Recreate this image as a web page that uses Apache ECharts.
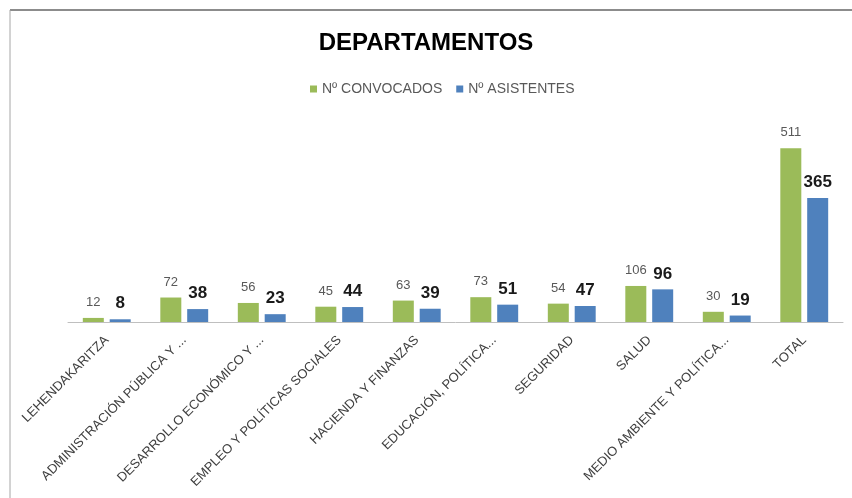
<!DOCTYPE html>
<html>
<head>
<meta charset="utf-8">
<script src="https://cdn.jsdelivr.net/npm/echarts@6/dist/echarts.min.js"></script>
<style>
  html, body { margin: 0; padding: 0; background: #fff; }
  #main { width: 852px; height: 498px; }
</style>
</head>
<body>
<div id="main"></div>
<script>
    // datos por departamento
    var categorias = ['LEHENDAKARITZA', 'ADMINISTRACIÓN PÚBLICA Y ...', 'DESARROLLO ECONÓMICO Y ...',
        'EMPLEO Y POLÍTICAS SOCIALES', 'HACIENDA Y FINANZAS', 'EDUCACIÓN, POLÍTICA...',
        'SEGURIDAD', 'SALUD', 'MEDIO AMBIENTE Y POLÍTICA...', 'TOTAL'];
    var convocados = [12, 72, 56, 45, 63, 73, 54, 106, 30, 511];
    var asistentes = [8, 38, 23, 44, 39, 51, 47, 96, 19, 365];

    var myChart = echarts.init(document.getElementById('main'));
    var fuente = '"Liberation Sans", Arial, sans-serif';

    var option = {
        backgroundColor: '#fff',
        animation: false,
        title: {
            text: 'DEPARTAMENTOS',
            left: 'center',
            top: 26,
            textStyle: { fontFamily: fuente, fontSize: 24, fontWeight: 'bold', color: '#000' }
        },
        legend: {
            top: 77,
            left: 305,
            itemWidth: 7,
            itemHeight: 7,
            itemGap: 14,
            icon: 'rect',
            textStyle: { fontFamily: fuente, fontSize: 14, color: '#595959' },
            data: ['Nº CONVOCADOS', 'Nº ASISTENTES']
        },
        grid: {
            left: 68,
            right: 9,
            top: 118,
            bottom: 176
        },
        xAxis: {
            type: 'category',
            data: categorias,
            axisLine: { lineStyle: { color: '#BFBFBF', width: 1 } },
            axisTick: { show: false },
            axisLabel: {
                interval: 0,
                rotate: 45,
                margin: 16,
                fontFamily: fuente,
                fontSize: 13,
                color: '#404040'
            }
        },
        yAxis: {
            type: 'value',
            min: 0,
            max: 600,
            show: false,
            splitLine: { show: false }
        },
        series: [
            {
                name: 'Nº CONVOCADOS',
                type: 'bar',
                data: convocados,
                barWidth: 21,
                barGap: '28%',
                itemStyle: { color: '#9BBB59' },
                label: {
                    show: true,
                    position: 'top',
                    distance: 9,
                    fontFamily: fuente,
                    fontSize: 13,
                    color: '#595959'
                }
            },
            {
                name: 'Nº ASISTENTES',
                type: 'bar',
                data: asistentes,
                barWidth: 21,
                itemStyle: { color: '#4F81BD' },
                label: {
                    show: true,
                    position: 'top',
                    distance: 7,
                    fontFamily: fuente,
                    fontSize: 17,
                    fontWeight: 'bold',
                    color: '#1a1a1a'
                }
            }
        ],
        // marco del gráfico
        graphic: [
            { type: 'line', shape: { x1: 10, y1: 10, x2: 852, y2: 10 }, style: { stroke: '#8c8c8c', lineWidth: 2 } },
            { type: 'line', shape: { x1: 10, y1: 10, x2: 10, y2: 498 }, style: { stroke: '#a6a6a6', lineWidth: 1 } }
        ]
    };
    myChart.setOption(option);
</script>
</body>
</html>
